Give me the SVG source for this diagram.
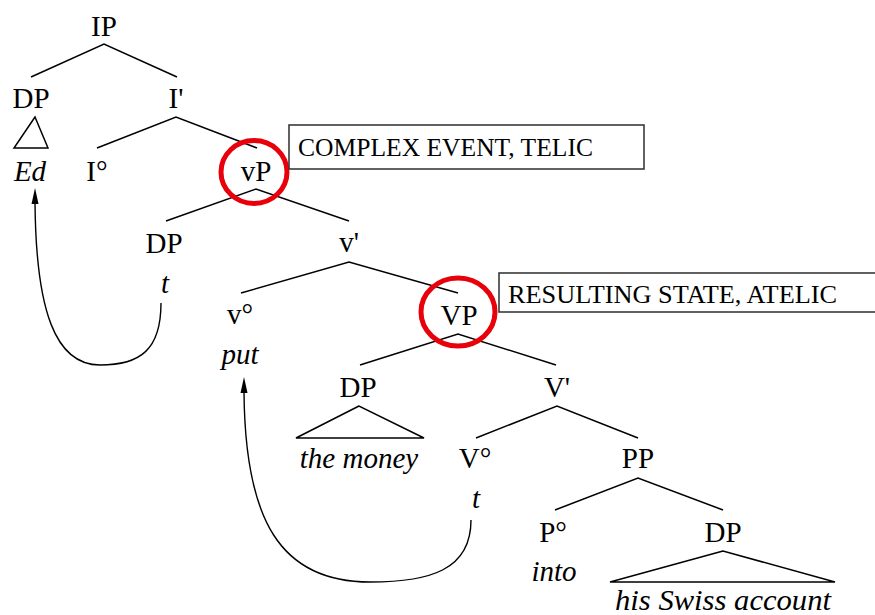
<svg xmlns="http://www.w3.org/2000/svg" width="875" height="615" viewBox="0 0 875 615">
<style>
.lbl{font-size:29px;text-anchor:middle;fill:#000}
.it{font-style:italic}
.box{fill:#fff;stroke:#3a3a3a;stroke-width:1.6}
.btxt{font-size:25.4px;fill:#000}
.br{fill:none;stroke:#000;stroke-width:1.5}
.arc{fill:none;stroke:#000;stroke-width:1.4}
.hl{fill:none;stroke:#e8000a;stroke-width:5}
</style>
<rect width="875" height="615" fill="#fff"/>
<g id="connectors">
<polyline class="br" points="31,77 104,44 177,77"/>
<polygon class="br" points="35,117 14,148 48,148"/>
<polyline class="br" points="97,148 176,117 257,148"/>
<polyline class="br" points="166,221 256,189 349,221"/>
<polyline class="br" points="241,293 349,262 458,293"/>
<polyline class="br" points="360,365 458,334 556,365"/>
<polygon class="br" points="359,406 296,438 424,438"/>
<polyline class="br" points="476,438 557,406 638,438"/>
<polyline class="br" points="555,510 638,478 723,510"/>
<polygon class="br" points="723,551 610,582 835,582"/>
<path class="arc" d="M161,303 C161,350 140,365 100,365 C55,365 36,310 35,203"/>
<path d="M35,188 L38.5,204 L31.5,204 Z" fill="#000"/>
<path class="arc" d="M471,520 C471,570 430,582 370,582 C280,582 245,520 244,392"/>
<path d="M244,377 L247.5,393 L240.5,393 Z" fill="#000"/>
</g>
<g id="nodes" font-family="Liberation Serif, serif">
<g id="n-IP"><text class="lbl" x="104" y="36">IP</text></g>
<g id="n-DP1"><text class="lbl" x="31" y="108">DP</text></g>
<g id="n-Ed"><text class="lbl it" x="30" y="181">Ed</text></g>
<g id="n-Ibar"><text class="lbl" x="176" y="108">I'</text></g>
<g id="n-Io"><text class="lbl" x="97" y="181">I°</text></g>
<g id="n-vP"><text class="lbl" x="256" y="181">vP</text><ellipse class="hl" cx="254" cy="172" rx="33" ry="31.5"/></g>
<g id="box1"><rect class="box" x="289" y="125" width="355" height="44"/><text class="btxt" x="298" y="156" textLength="295" lengthAdjust="spacingAndGlyphs">COMPLEX EVENT, TELIC</text></g>
<g id="n-DP2"><text class="lbl" x="164" y="253">DP</text></g>
<g id="n-t1"><text class="lbl it" x="165" y="293">t</text></g>
<g id="n-vbar"><text class="lbl" x="349" y="252">v'</text></g>
<g id="n-vo"><text class="lbl" x="240" y="324">v°</text></g>
<g id="n-put"><text class="lbl it" x="240" y="364">put</text></g>
<g id="n-VP"><text class="lbl" x="459" y="325">VP</text><ellipse class="hl" cx="458" cy="312" rx="37" ry="34"/></g>
<g id="box2"><rect class="box" x="499" y="273" width="400" height="39"/><text class="btxt" x="508" y="303" textLength="329" lengthAdjust="spacingAndGlyphs">RESULTING STATE, ATELIC</text></g>
<g id="n-DP3"><text class="lbl" x="358" y="397">DP</text></g>
<g id="n-money"><text class="lbl it" x="359" y="468">the money</text></g>
<g id="n-Vbar"><text class="lbl" x="557" y="397">V'</text></g>
<g id="n-Vo"><text class="lbl" x="475" y="468">V°</text></g>
<g id="n-t2"><text class="lbl it" x="476" y="508">t</text></g>
<g id="n-PP"><text class="lbl" x="638" y="468">PP</text></g>
<g id="n-Po"><text class="lbl" x="553" y="542">P°</text></g>
<g id="n-into"><text class="lbl it" x="554" y="581">into</text></g>
<g id="n-DP4"><text class="lbl" x="723" y="542">DP</text></g>
<g id="n-acct"><text class="lbl it" x="723" y="610" textLength="216" lengthAdjust="spacingAndGlyphs">his Swiss account</text></g>
</g>
</svg>
